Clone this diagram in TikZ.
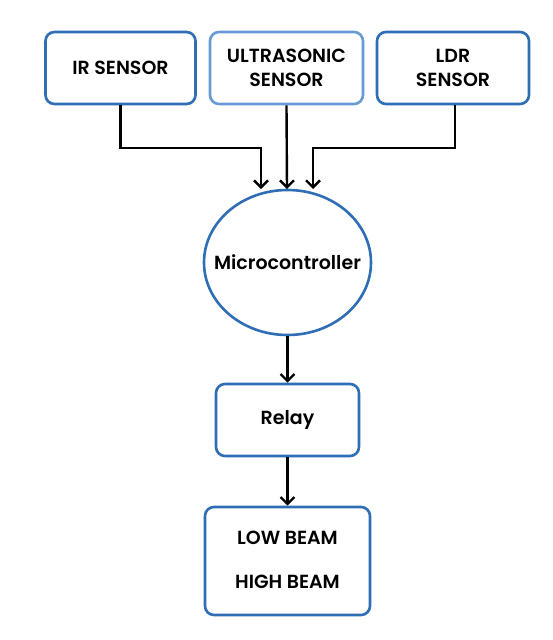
\documentclass[tikz,border=0pt]{standalone}
\usepackage{fontspec}
\setmainfont{Poppins}[BoldFont={Poppins SemiBold}]
\usetikzlibrary{arrows.meta,shapes.geometric}
\definecolor{edge}{HTML}{2F6DB5}
\definecolor{edgelight}{HTML}{6A9AD6}
\newcommand{\lblfont}{\fontsize{19}{24.5}\selectfont\bfseries}
\tikzset{
  blk/.style={draw=edge, line width=2.6pt, rounded corners=9pt, fill=white,
    align=center, font=\lblfont, inner sep=0pt},
  flow/.style={draw=black, line width=2.4pt, -{Straight Barb[length=7pt,width=14pt,line width=2.4pt]}},
}
\begin{document}
\begin{tikzpicture}[x=1pt,y=-1pt]
\useasboundingbox (0,0) rectangle (552,640);
\fill[white] (0,0) rectangle (552,640);
% sensor row
\node[blk, minimum width=150pt, minimum height=72pt] (ir) at (120.5,68) {IR SENSOR};
\node[blk, draw=edgelight, minimum width=153pt, minimum height=72pt] (us) at (286.5,68) {ULTRASONIC\\SENSOR};
\node[blk, minimum width=152pt, minimum height=72pt] (ldr) at (453,68) {LDR\\SENSOR};
% controller: the ellipse is sized on its own, its label sits on top
\node[draw=edge, line width=2.6pt, ellipse, minimum width=167pt, minimum height=145pt, inner sep=0pt] (mc) at (287.5,262.5) {};
\node[font=\lblfont, inner sep=0pt] (mctext) at (mc.center) {Microcontroller};
% outputs
\node[blk, minimum width=143pt, minimum height=72pt] (relay) at (287.5,420) {Relay};
\node[blk, minimum width=165pt, minimum height=108pt] (beam) at (287.5,561) {};
\node[font=\lblfont] (low) at (287.5,538) {LOW BEAM};
\node[font=\lblfont] (high) at (287.5,582) {HIGH BEAM};
% connectors
\coordinate (irin) at (261,189);
\coordinate (usin) at (287,189);
\coordinate (ldrin) at (313,189);
\draw[flow] (ir.south) -- (120.5,148) -| (irin);
\draw[flow] (us.south) -- (usin);
\draw[flow] (ldr.south -| 455,0) |- (313,148) -- (ldrin);
\draw[flow] (mc.south) -- (relay.north);
\draw[flow] (relay.south) -- (beam.north);
\end{tikzpicture}
\end{document}
